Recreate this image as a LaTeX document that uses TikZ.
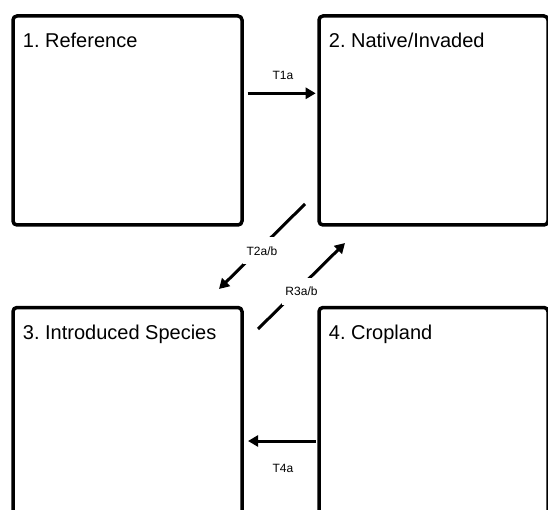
\documentclass[tikz,border=0pt]{standalone}
\usepackage{fontspec}
\setmainfont{Liberation Sans}
\frenchspacing
\usepackage{tikz}
\usetikzlibrary{
  arrows.meta,
  positioning
}
\tikzset{
  statebox/.style={
    draw=black,
    line width=3.5pt,
    rounded corners=4pt,
    minimum width=229pt,
    minimum height=209pt,
    inner sep=0pt,
    outer sep=0pt
  },
  statename/.style={anchor=base west,inner sep=0pt,font=\fontsize{20}{24}\selectfont},
  trans/.style={-{Triangle[length=10pt,width=11pt]},line width=3pt},
  translabel/.style={font=\fontsize{12}{14}\selectfont},
  gaplabel/.style={translabel,fill=white,minimum height=27pt}
}

\begin{document}
\begin{tikzpicture}
  \useasboundingbox (0,0) rectangle (548pt,-510pt);
  \clip (0,0) rectangle (548pt,-510pt);

  \node[statebox, anchor=north west] (ref) at (13pt,-16pt) {};
  \node[statebox, right=77pt of ref] (nat) {};
  \node[statebox, below=82.5pt of ref] (intro) {};
  \node[statebox, right=77pt of intro] (crop) {};

  \node[statename] (refname) at ([xshift=9.7pt,yshift=-31.5pt]ref.north west) {1. Reference};
  \node[statename] (natname) at ([xshift=9.7pt,yshift=-31.5pt]nat.north west) {2. Native/Invaded};
  \node[statename] (introname) at ([xshift=9.7pt,yshift=-31.5pt]intro.north west) {3. Introduced Species};
  \node[statename] (cropname) at ([xshift=9.7pt,yshift=-31.5pt]crop.north west) {4. Cropland};

  \draw[trans, shorten <=5.7pt, shorten >=3.3pt] ([yshift=27.2pt]ref.east) -- node[translabel, xshift=2.5pt, yshift=18pt] (t1a) {T1a} ([yshift=27.2pt]nat.west);
  \draw[trans] ([shift={(-14pt,21pt)}]nat.south west) -- node[gaplabel, yshift=-4.5pt] (t2ab) {T2a/b} ([shift={(-23pt,18.5pt)}]intro.north east);
  \draw[trans] ([shift={(16pt,-21.5pt)}]intro.north east) -- node[gaplabel, yshift=-5.5pt] (r3ab) {R3a/b} ([shift={(26pt,-18pt)}]nat.south west);
  \draw[trans, shorten <=3pt, shorten >=6pt] ([yshift=-29pt]crop.west) -- node[translabel, xshift=2.5pt, yshift=-27pt] (t4a) {T4a} ([yshift=-29pt]intro.east);
\end{tikzpicture}
\end{document}
